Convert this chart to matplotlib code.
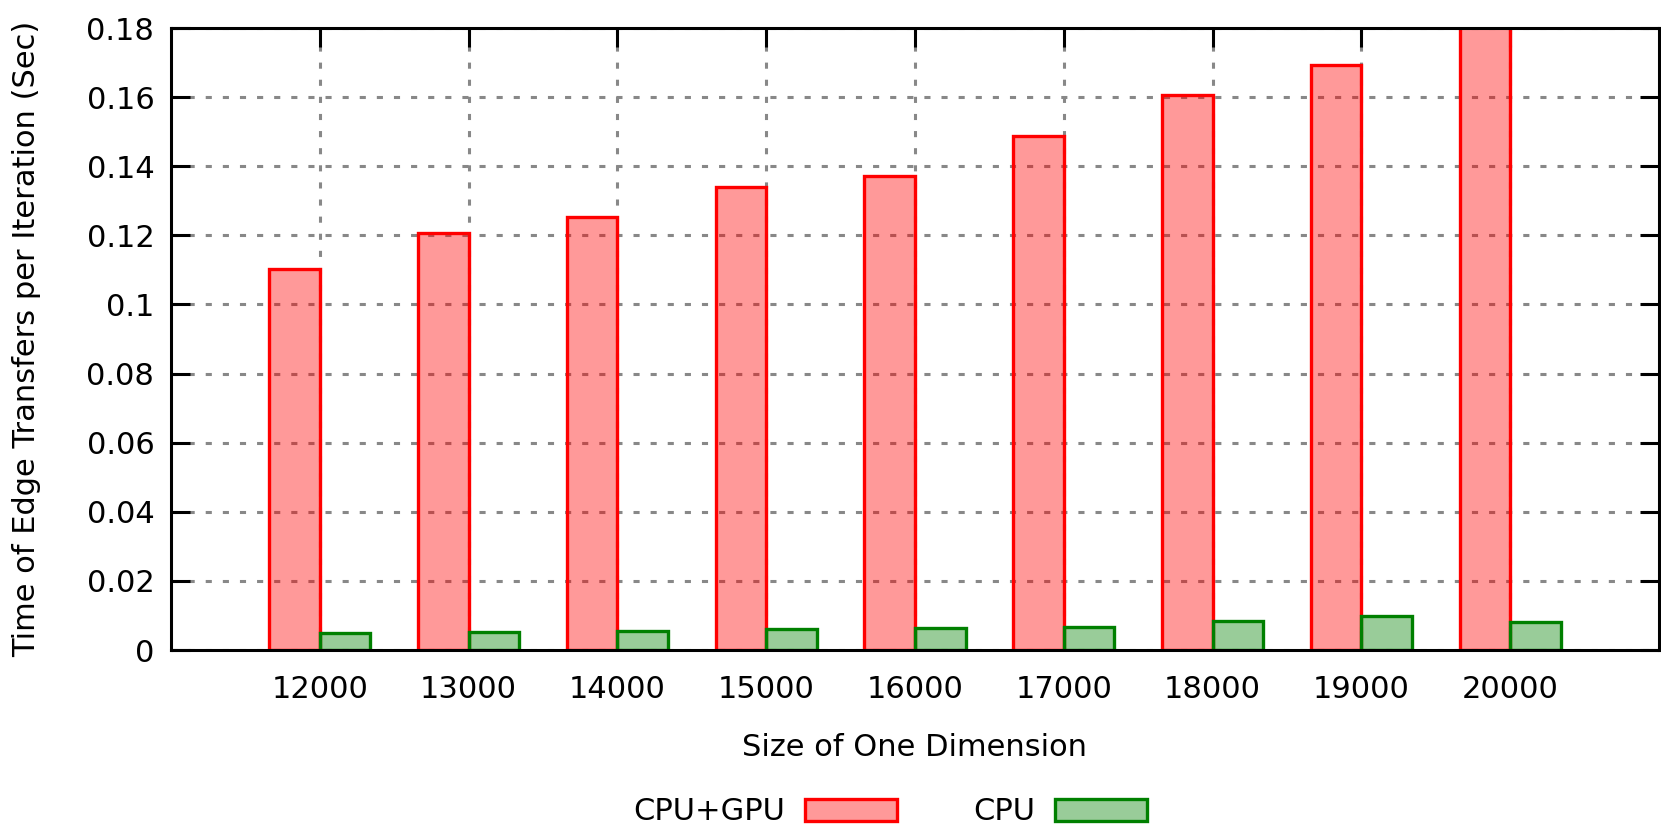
# coding:utf-8
# 边传输时间对比图 (gnuplot 风格柱状图)

import numpy as np
import matplotlib.pyplot as plt
from matplotlib.ticker import FuncFormatter


# 数据
sizes = ["12000", "13000", "14000", "15000", "16000", "17000", "18000", "19000", "20000"]
cpu_gpu = [0.1102, 0.1206, 0.1252, 0.1341, 0.1372, 0.1488, 0.1605, 0.1694, 0.182]
cpu = [0.0048, 0.0051, 0.0056, 0.0060, 0.0065, 0.0068, 0.0084, 0.0099, 0.0082]
y_ticks = [0, 0.02, 0.04, 0.06, 0.08, 0.1, 0.12, 0.14, 0.16, 0.18]


def draw():
    plt.rcParams["font.family"] = ["DejaVu Sans"]
    fig = plt.figure(figsize = (16.61, 8.27), dpi = 100)
    ax = fig.add_axes([0.1029, 0.2140, 0.8959, 0.7521])
    fs = 22

    x = np.arange(len(sizes))
    w = 0.34
    # 红色 CPU+GPU 在左, 绿色 CPU 在右
    ax.bar(x - w/2, cpu_gpu, width = w, color = (1, 0, 0, 0.4), edgecolor = "red",
           linewidth = 2.4, label = "CPU+GPU", zorder = 3)
    ax.bar(x + w/2, cpu, width = w, color = (0, 0.5, 0, 0.4), edgecolor = "#008000",
           linewidth = 2.4, label = "CPU", zorder = 3)

    ax.set_xlim(-1, 9)
    ax.set_ylim(0, 0.18)
    ax.set_xticks(x)
    ax.set_xticklabels(sizes)
    ax.set_yticks(y_ticks)
    ax.yaxis.set_major_formatter(FuncFormatter(lambda v, p: "%g" % round(v, 4)))

    # 网格
    ax.grid(True, color = "#888888", linewidth = 2.2, linestyle = (0, (2.0, 3.6)), zorder = 1)
    ax.set_axisbelow(True)

    ax.tick_params(axis = "both", direction = "in", length = 14, width = 2.2,
                   labelsize = fs, top = True, right = True)
    ax.tick_params(axis = "y", pad = 12)
    ax.tick_params(axis = "x", pad = 18)
    for s in ax.spines.values():
        s.set_linewidth(2.2)
        s.set_zorder(5)

    fig.text(27/1661, 0.590, "Time of Edge Transfers per Iteration (Sec)", rotation = 90,
             ha = "center", va = "center", fontsize = fs)
    fig.text(915/1661, 0.0967, "Size of One Dimension", ha = "center", va = "center",
             fontsize = fs)

    fig.legend(loc = "center", bbox_to_anchor = (890/1661, 15/827), ncol = 2,
               markerfirst = False, frameon = False, fontsize = fs,
               handlelength = 3.0, handleheight = 0.72, handletextpad = 0.65,
               columnspacing = 2.5)

    fig.savefig("out.png", dpi = 100)
    plt.close()


if __name__ == "__main__":
    draw()
